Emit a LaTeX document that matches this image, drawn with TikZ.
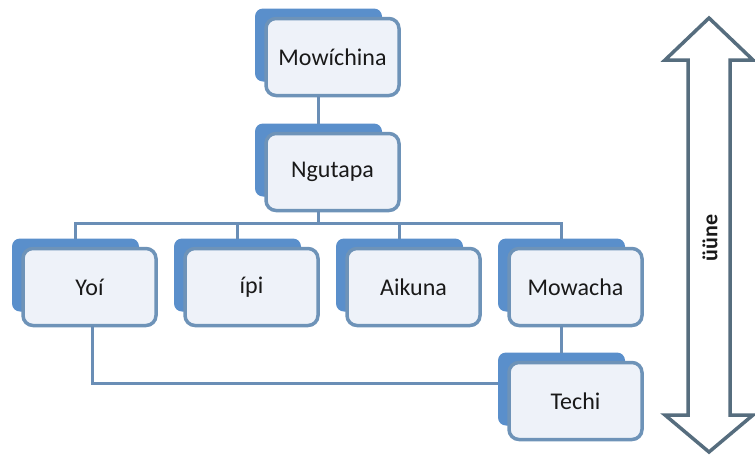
\documentclass[tikz,border=0pt]{standalone}
\usepackage{fontspec}
\setmainfont{Carlito}
\usetikzlibrary{positioning}

\definecolor{backblue}{HTML}{5A8FCB}
\definecolor{frontline}{HTML}{6E93B8}
\definecolor{frontfill}{HTML}{EEF2F9}
\definecolor{linkblue}{HTML}{6A8EB6}
\definecolor{arrowgray}{HTML}{566D7E}

\begin{document}
\begin{tikzpicture}[
    x=1pt, y=-1pt,
    backbox/.style={rectangle, rounded corners=8pt, fill=backblue, minimum width=127pt, minimum height=73pt, outer sep=0pt},
    frontbox/.style={rectangle, rounded corners=10pt, draw=frontline, line width=3.5pt, fill=frontfill, minimum width=133pt, minimum height=77pt, outer sep=0pt, text=black!90, font=\fontsize{24}{28}\selectfont},
    link/.style={draw=linkblue, line width=3pt},
    bigarrow/.style={draw=arrowgray, line width=3.5pt, fill=white, line join=miter}
]
  \useasboundingbox (0,0) rectangle (755,456);

  % 后层方块
  \node[backbox] (mowb) at (318.5,45) {};
  \node[backbox] (ngub) at (318.5,160) {};
  \node[backbox] (yoib) at (75.5,275) {};
  \node[backbox] (ipib) at (237.5,275) {};
  \node[backbox] (aikb) at (399.5,275) {};
  \node[backbox] (mowab) at (561.5,275) {};
  \node[backbox] (techb) at (561.5,389) {};

  % 前层方块
  \node[frontbox, below right=10pt and 11pt of mowb.north west] (mow) {Mowíchina};
  \node[frontbox, below right=10pt and 11pt of ngub.north west] (ngu) {Ngutapa};
  \node[frontbox, below right=10pt and 11pt of yoib.north west] (yoi) {Yoí};
  \node[frontbox, below right=10pt and 11pt of ipib.north west] (ipi) {ípi};
  \node[frontbox, below right=10pt and 11pt of aikb.north west] (aik) {Aikuna};
  \node[frontbox, below right=10pt and 11pt of mowab.north west] (mowa) {Mowacha};
  \node[frontbox, below right=10pt and 11pt of techb.north west] (tech) {Techi};

  % 连线
  \coordinate (bus) at (318.5,223);
  \draw[link] (ngub.north |- mow.south) -- (ngub.north);
  \draw[link] (ngub.north |- ngu.south) -- (bus);
  \draw[link] (yoib.north) |- (bus) -| (mowab.north);
  \draw[link] (ipib.north) -- (ipib.north |- bus);
  \draw[link] (aikb.north) -- (aikb.north |- bus);
  \draw[link] (techb.north |- mowa.south) -- (techb.north);
  \draw[link] ([xshift=3pt]yoi.south) |- ([yshift=6pt]techb.west);

  % 双向箭头
  \draw[bigarrow] (709,18) -- (753,60) -- (730,60) -- (730,415) -- (753,415) -- (709,452)
    -- (665,415) -- (688,415) -- (688,60) -- (665,60) -- cycle;
  \node[rotate=90, text=black!90, font=\fontsize{22}{26}\selectfont\bfseries] (up) at (710,238) {üüne};
\end{tikzpicture}
\end{document}
